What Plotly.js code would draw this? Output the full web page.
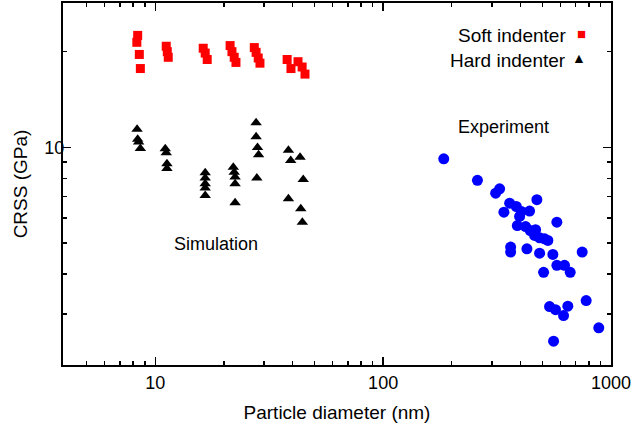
<!DOCTYPE html>
<html>
<head>
<meta charset="utf-8">
<script src="https://cdn.plot.ly/plotly-3.0.1.min.js"></script>
<style>html,body{margin:0;padding:0;background:#fff;}#chart{width:633px;height:423px;}</style>
</head>
<body>
<div id="chart"></div>
<script>
// Soft indenter (simulation): particle diameter (nm), CRSS (GPa)
const softX = [8.37, 8.30, 8.51, 8.60, 11.17, 11.29, 11.40, 16.23, 16.56, 16.90, 21.3, 21.7, 22.2, 22.6, 27.2, 27.7, 28.3, 28.8, 37.9, 39.4, 42.3, 44.1, 45.4];
const softY = [22.5, 21.4, 19.6, 17.7, 20.8, 20.0, 19.2, 20.5, 19.8, 18.9, 20.9, 20.0, 19.2, 18.5, 20.6, 19.9, 19.1, 18.4, 18.9, 17.7, 18.6, 17.9, 17.0];

// Hard indenter (simulation)
const hardX = [8.32, 8.37, 8.45, 8.60, 11.06, 11.17, 11.25, 11.25, 16.56, 16.56, 16.56, 16.56, 16.56, 22.0, 22.2, 22.4, 22.4, 22.4, 27.7, 27.7, 28.1, 28.4, 27.9, 38.4, 39.3, 38.4, 43.2, 44.6, 43.5, 44.2];
const hardY = [11.4, 10.6, 10.4, 9.93, 9.91, 9.62, 8.89, 8.59, 8.33, 8.01, 7.69, 7.45, 7.06, 8.67, 8.36, 8.07, 7.69, 6.70, 11.96, 10.8, 10.0, 9.48, 8.01, 9.79, 9.10, 6.90, 9.32, 7.93, 6.42, 5.82];

// Experiment
const expX = [184.5, 259.3, 311.7, 324.5, 359.1, 384.1, 404.0, 397.1, 439.2, 472.8, 338.9, 388.0, 421.9, 442.3, 466.7, 462.0, 486.0, 511.1, 528.4, 578.6, 362.7, 362.7, 427.5, 486.0, 555.7, 578.6, 625.2, 662.2, 506.0, 747.4, 537.5, 570.8, 646.4, 619.0, 778.1, 883.7, 559.7];
const expY = [9.21, 7.88, 7.18, 7.41, 6.68, 6.52, 6.29, 6.07, 6.31, 6.85, 6.26, 5.68, 5.64, 5.48, 5.51, 5.29, 5.20, 5.16, 5.10, 5.82, 4.86, 4.69, 4.80, 4.65, 4.61, 4.26, 4.26, 4.05, 4.05, 4.69, 3.16, 3.09, 3.17, 2.96, 3.30, 2.71, 2.46];

const xMajor = [10, 100, 1000];
const xMajorText = ['10', '100', '1000'];
const xMinor = [5, 6, 7, 8, 9, 20, 30, 40, 50, 60, 70, 80, 90, 200, 300, 400, 500, 600, 700, 800, 900];
const yMajor = [10];
const yMajorText = ['10'];
const yMinor = [3, 4, 5, 6, 7, 8, 9, 20];

const FONT = 'Liberation Sans, Arial, Helvetica, sans-serif';

const traces = [
  {x: softX, y: softY, type: 'scatter', mode: 'markers', name: 'Soft indenter',
   marker: {symbol: 'square', size: 9, color: '#ff0000'}},
  {x: hardX, y: hardY, type: 'scatter', mode: 'markers', name: 'Hard indenter',
   marker: {symbol: 'triangle-up', size: 10, color: '#000000'}},
  {x: expX, y: expY, type: 'scatter', mode: 'markers', name: 'Experiment',
   marker: {symbol: 'circle', size: 11, color: '#0000ff'}}
];

const layout = {
  width: 633, height: 423,
  margin: {l: 63, r: 22, t: 3, b: 58},
  paper_bgcolor: '#fff', plot_bgcolor: '#fff',
  showlegend: false,
  font: {family: FONT, size: 18, color: '#000'},
  xaxis: {
    type: 'log', range: [0.595, 3],
    showgrid: false, zeroline: false,
    showline: true, linecolor: '#000', linewidth: 2, mirror: 'ticks',
    ticks: 'inside', ticklen: 8, tickwidth: 1.5, tickcolor: '#000',
    tickmode: 'array', tickvals: xMajor, ticktext: xMajorText,
    tickfont: {size: 18},
    minor: {tickmode: 'array', tickvals: xMinor, ticks: 'inside', ticklen: 4, tickwidth: 1.5, tickcolor: '#000', showgrid: false},
    title: {text: 'Particle diameter (nm)', font: {size: 19}, standoff: 15}
  },
  yaxis: {
    type: 'log', range: [0.316, 1.454],
    showgrid: false, zeroline: false,
    showline: true, linecolor: '#000', linewidth: 2, mirror: 'ticks',
    ticks: 'inside', ticklen: 8, tickwidth: 1.5, tickcolor: '#000',
    tickmode: 'array', tickvals: yMajor, ticktext: yMajorText,
    tickfont: {size: 18}, ticklabelstandoff: -7,
    minor: {tickmode: 'array', tickvals: yMinor, ticks: 'inside', ticklen: 4, tickwidth: 1.5, tickcolor: '#000', showgrid: false},
    title: {text: 'CRSS (GPa)', font: {size: 19}, standoff: 12}
  },
  annotations: [
    {x: 2.529, y: 1.0645, xref: 'x', yref: 'y', text: 'Experiment', showarrow: false, font: {size: 18}},
    {x: 1.267, y: 0.6965, xref: 'x', yref: 'y', text: 'Simulation', showarrow: false, font: {size: 18}},
    {x: 0.9215, y: 0.9448, xref: 'paper', yref: 'paper', xanchor: 'right', text: 'Soft indenter', showarrow: false, font: {size: 19}},
    {x: 0.958, y: 0.9448, xref: 'paper', yref: 'paper', text: '■', showarrow: false, font: {size: 15, color: '#ff0000'}},
    {x: 0.9215, y: 0.8757, xref: 'paper', yref: 'paper', xanchor: 'right', text: 'Hard indenter', showarrow: false, font: {size: 19}},
    {x: 0.958, y: 0.8757, xref: 'paper', yref: 'paper', text: '▲', showarrow: false, font: {size: 14, color: '#000000'}}
  ]
};

Plotly.newPlot('chart', traces, layout, {displayModeBar: false, staticPlot: true});
</script>
</body>
</html>
